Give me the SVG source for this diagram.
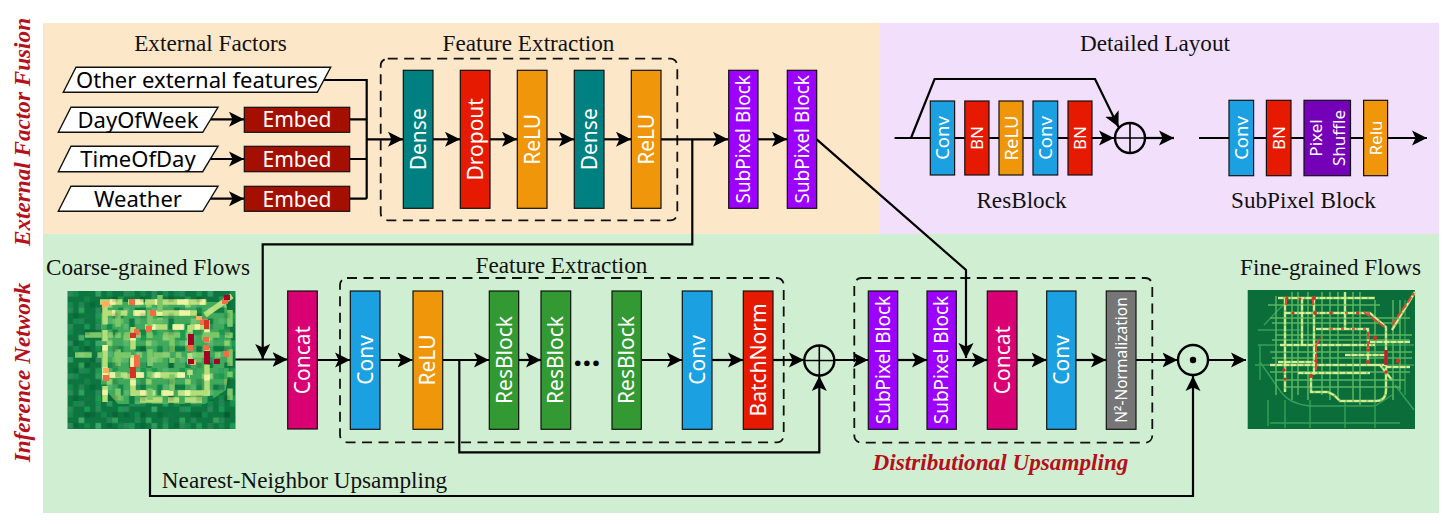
<svg xmlns="http://www.w3.org/2000/svg" width="1451" height="525" viewBox="0 0 1451 525">
<style>
.t{font-family:"Liberation Serif","Times New Roman",serif;font-size:23.2px;fill:#111;text-anchor:middle}
.r{font-family:"Liberation Serif",serif;font-weight:bold;font-style:italic;fill:#b5101c;text-anchor:middle;font-size:23.2px}
.b{stroke:#111;stroke-width:1.2}
.w{font-family:"Noto Sans","Open Sans",sans-serif;fill:#fff;text-anchor:middle;font-size:21px}
.s{font-size:18.5px}
.m{font-size:17px}
.v{font-size:19px}
.c{fill:none;stroke:#000;stroke-width:2.2}
.a{marker-end:url(#ah)}
.d{fill:none;stroke:#111;stroke-width:1.8;stroke-dasharray:10 6.5}
.p{fill:#fff;stroke:#111;stroke-width:1.4}
.k{font-family:"Noto Sans","Open Sans",sans-serif;fill:#000;text-anchor:middle;font-size:22px}
.o{fill:none;stroke:#000;stroke-width:2.4}
.h{stroke-width:1.6}
.teal{fill:#008080}.red{fill:#e51a00}.org{fill:#f0960a}.pur{fill:#9c00ff}.blu{fill:#1ba1e2}.grn{fill:#339933}.pnk{fill:#d80073}.gry{fill:#767676}.vio{fill:#7400b8}.emb{fill:#a50f00}
</style>
<defs>
<marker id="ah" markerUnits="userSpaceOnUse" markerWidth="16" markerHeight="16" refX="15" refY="8" orient="auto" viewBox="0 0 16 16"><path d="M0,0.5 L15,8 L0,15.5 L3.5,8 Z" fill="#000"/></marker>
<pattern id="np" width="33.6" height="27.5" patternUnits="userSpaceOnUse" x="67.5" y="291">
<rect width="33.6" height="27.5" fill="#0d7540"/>
<rect x="5.6" y="0" width="5.6" height="5.5" fill="#13894a"/><rect x="16.8" y="5.5" width="5.6" height="5.5" fill="#1a9850"/><rect x="28" y="0" width="5.6" height="5.5" fill="#188f4c"/><rect x="0" y="11" width="5.6" height="5.5" fill="#13894a"/><rect x="11.2" y="16.5" width="5.6" height="5.5" fill="#2fa255"/><rect x="22.4" y="11" width="5.6" height="5.5" fill="#056b38"/><rect x="28" y="22" width="5.6" height="5.5" fill="#1f9a52"/><rect x="5.6" y="22" width="5.6" height="5.5" fill="#056b38"/><rect x="16.8" y="22" width="5.6" height="5.5" fill="#13894a"/>
</pattern>
<pattern id="mp" width="39.2" height="38.5" patternUnits="userSpaceOnUse" x="67.5" y="291">
<rect width="39.2" height="38.5" fill="#3fa95c"/>
<rect x="5.6" y="0" width="5.6" height="5.5" fill="#1a9850"/><rect x="16.8" y="5.5" width="11.2" height="5.5" fill="#86cb66"/><rect x="0" y="11" width="5.6" height="5.5" fill="#8fd26c"/><rect x="11.2" y="16.5" width="5.6" height="11" fill="#13894a"/><rect x="28" y="16.5" width="11.2" height="5.5" fill="#0f7c42"/><rect x="33.6" y="0" width="5.6" height="11" fill="#1a9850"/><rect x="5.6" y="27.5" width="11.2" height="5.5" fill="#66bd63"/><rect x="22.4" y="27.5" width="5.6" height="11" fill="#0f7c42"/><rect x="0" y="33" width="5.6" height="5.5" fill="#13894a"/><rect x="28" y="5.5" width="5.6" height="5.5" fill="#2a9c55"/>
</pattern>
<pattern id="qp" width="28" height="16.5" patternUnits="userSpaceOnUse" x="67.5" y="291">
<rect x="0" y="0" width="5.6" height="5.5" fill="#fff" fill-opacity=".13"/><rect x="16.8" y="5.5" width="5.6" height="5.5" fill="#000" fill-opacity=".14"/><rect x="11.2" y="11" width="5.6" height="5.5" fill="#fff" fill-opacity=".1"/>
</pattern>
<filter id="bl" x="-5%" y="-5%" width="110%" height="110%"><feGaussianBlur stdDeviation="0.55"/></filter>
<filter id="bc" x="-2%" y="-2%" width="104%" height="104%"><feGaussianBlur stdDeviation="0.4"/></filter>
<path id="f-major" d="M1278,298 H1375 M1285,313 H1370 L1386,327 V390 Q1386,401 1376,401 H1340 L1334,395 L1328,392 H1311 V373 M1285,298 V392 M1302,298 V345 M1314,298 V375 M1316,329 H1368 V365 H1380 L1392,380 M1270,365 H1386 M1278,362 H1315 V343 M1370,342 H1410 M1386,367 H1410 M1345,345 H1375 M1392,330 L1415,292 M1280,345 H1345 M1345,355 H1385 M1298,373 H1370 M1345,292 V330"/>
</defs>

<g id="backgrounds">
<rect x="43" y="23" width="837" height="211" fill="#fce7c9"/>
<rect x="880" y="23" width="559" height="211" fill="#f2dffc"/>
<rect x="43" y="234" width="1396" height="279" fill="#d0efd2"/>
</g>

<text class="r" transform="translate(29.5,132) rotate(-90)">External Factor Fusion</text>
<text class="r" transform="translate(29.5,372.5) rotate(-90)">Inference Network</text>
<text class="t" x="210.5" y="51">External Factors</text>
<text class="t" x="528.5" y="51">Feature Extraction</text>
<text class="t" x="1155" y="51">Detailed Layout</text>
<text class="t" x="1021.5" y="207.5">ResBlock</text>
<text class="t" x="1303.5" y="207.5">SubPixel Block</text>
<text class="t" x="148" y="274.5">Coarse-grained Flows</text>
<text class="t" x="561.5" y="272.5">Feature Extraction</text>
<text class="t" x="1330.5" y="274.5">Fine-grained Flows</text>
<text class="t" x="304.5" y="488">Nearest-Neighbor Upsampling</text>
<text class="r" x="1000.5" y="470">Distributional Upsampling</text>

<g id="dashed-groups">
<rect class="d" x="380.7" y="58.7" width="296.6" height="161.6" rx="7"/>
<rect class="d" x="340" y="278" width="443.7" height="164.3" rx="7"/>
<rect class="d" x="854.3" y="278" width="298" height="164.6" rx="7"/>
</g>

<g id="connectors">
<path class="c" d="M323,80 H366.7 V198.7 M349.7,119.3 H366.7 M349.7,159 H366.7 M349.7,198.7 H366.7"/>
<path class="c a" d="M210,119.3 H244"/>
<path class="c a" d="M210,159 H244"/>
<path class="c a" d="M210,198.7 H244"/>
<path class="c a" d="M366.7,139.3 H403"/>
<path class="c a" d="M433,139.3 H460"/>
<path class="c a" d="M490,139.3 H517"/>
<path class="c a" d="M547,139.3 H574"/>
<path class="c a" d="M604,139.3 H631"/>
<path class="c a" d="M661,139.3 H728"/>
<path class="c a" d="M758,139.3 H787"/>
<path class="c a" d="M692.3,139.3 V244.3 H262.7 V359"/>
<path class="c a" d="M816.7,139.3 L966,270 V358"/>
<path class="c a" d="M234,359.5 H287.5"/>
<path class="c a" d="M317.3,360 H350"/>
<path class="c a" d="M380,360 H412.5"/>
<path class="c a" d="M442.7,360 H489"/>
<path class="c a" d="M518.7,360 H541"/>
<path class="c a" d="M641.3,360 H682"/>
<path class="c a" d="M712,360 H743"/>
<path class="c a" d="M773,360 H804"/>
<path class="c a" d="M459.3,360 V452.3 H819.3 V376"/>
<path class="c a" d="M834.3,360 H868"/>
<path class="c a" d="M897.7,360 H927"/>
<path class="c a" d="M956.3,360 H987"/>
<path class="c a" d="M1017,360 H1046.5"/>
<path class="c a" d="M1076,360 H1106"/>
<path class="c a" d="M1136,360 H1177.5"/>
<path class="c a" d="M1208,360 H1246"/>
<path class="c a" d="M150,429 V496 H1193 V376"/>
<path class="c a" d="M894.6,138 H1114"/>
<path class="c a" d="M911,138 L934.6,79 H1095 L1118.5,127"/>
<path class="c a" d="M1145,138 H1174"/>
<path class="c a" d="M1199,138 H1427"/>
</g>

<g id="input-other"><polygon class="p" points="63.3,92.3 76,67.3 330.7,67.3 317.3,92.3"/><text class="k" x="197" y="87.5">Other external features</text></g>
<g id="input-dayofweek"><polygon class="p" points="58.3,132.3 71,107.3 218,107.3 202.7,132.3"/><text class="k" x="138" y="127.5">DayOfWeek</text></g>
<g id="input-timeofday"><polygon class="p" points="58.3,171.7 71,146.3 218,146.3 202.7,171.7"/><text class="k" x="138" y="167">TimeOfDay</text></g>
<g id="input-weather"><polygon class="p" points="58.3,211.3 71,186.3 218,186.3 202.7,211.3"/><text class="k" x="138" y="207">Weather</text></g>

<g id="embed-1"><rect class="b emb" x="244.3" y="107.3" width="105.4" height="25"/><text class="w" x="297" y="127">Embed</text></g>
<g id="embed-2"><rect class="b emb" x="244.3" y="146.3" width="105.4" height="25.4"/><text class="w" x="297" y="166.5">Embed</text></g>
<g id="embed-3"><rect class="b emb" x="244.3" y="186.3" width="105.4" height="25"/><text class="w" x="297" y="206.5">Embed</text></g>

<g id="ext-dense-1"><rect class="b teal" x="403.3" y="70.3" width="29.7" height="138"/><text class="w" transform="translate(418.2,139.3) rotate(-90)" dy="7.5">Dense</text></g>
<g id="ext-dropout"><rect class="b red" x="460.3" y="70.3" width="29.7" height="138"/><text class="w" transform="translate(475.2,139.3) rotate(-90)" dy="7.5">Dropout</text></g>
<g id="ext-relu-1"><rect class="b org" x="517.3" y="70.3" width="29.7" height="138"/><text class="w" transform="translate(532.2,139.3) rotate(-90)" dy="7.5">ReLU</text></g>
<g id="ext-dense-2"><rect class="b teal" x="574.3" y="70.3" width="29.7" height="138"/><text class="w" transform="translate(589.2,139.3) rotate(-90)" dy="7.5">Dense</text></g>
<g id="ext-relu-2"><rect class="b org" x="631.3" y="70.3" width="29.7" height="138"/><text class="w" transform="translate(646.2,139.3) rotate(-90)" dy="7.5">ReLU</text></g>
<g id="ext-subpixel-1"><rect class="b pur" x="728.7" y="70.3" width="29.3" height="138"/><text class="w v" transform="translate(743.3,139.3) rotate(-90)" dy="6.8">SubPixel Block</text></g>
<g id="ext-subpixel-2"><rect class="b pur" x="787.3" y="70.3" width="29.4" height="138"/><text class="w v" transform="translate(802,139.3) rotate(-90)" dy="6.8">SubPixel Block</text></g>

<g id="rb-conv-1"><rect class="b blu" x="930.3" y="101" width="24.3" height="74"/><text class="w s" transform="translate(942.5,138) rotate(-90)" dy="6.5">Conv</text></g>
<g id="rb-bn-1"><rect class="b red" x="964.8" y="101" width="24.2" height="74"/><text class="w m" transform="translate(977,138) rotate(-90)" dy="6">BN</text></g>
<g id="rb-relu"><rect class="b org" x="999" y="101" width="24" height="74"/><text class="w s" transform="translate(1011,138) rotate(-90)" dy="6.5">ReLU</text></g>
<g id="rb-conv-2"><rect class="b blu" x="1033" y="101" width="24.7" height="74"/><text class="w s" transform="translate(1045.4,138) rotate(-90)" dy="6.5">Conv</text></g>
<g id="rb-bn-2"><rect class="b red" x="1068" y="101" width="24" height="74"/><text class="w m" transform="translate(1080,138) rotate(-90)" dy="6">BN</text></g>
<g id="rb-add"><circle class="o" cx="1130" cy="138" r="15"/><path class="o h" d="M1115,138 H1145 M1130,123 V153"/></g>

<g id="sp-conv"><rect class="b blu" x="1229" y="100.3" width="24.6" height="75.4"/><text class="w s" transform="translate(1241.3,138) rotate(-90)" dy="6.5">Conv</text></g>
<g id="sp-bn"><rect class="b red" x="1266.4" y="100.3" width="24.6" height="75.4"/><text class="w m" transform="translate(1278.7,138) rotate(-90)" dy="6">BN</text></g>
<g id="sp-shuffle"><rect class="b vio" x="1304" y="100.3" width="46.5" height="75.4"/><text class="w m" transform="translate(1327,138) rotate(-90)"><tspan x="0" y="-5">Pixel</tspan><tspan x="0" y="18">Shuffle</tspan></text></g>
<g id="sp-relu"><rect class="b org" x="1363.6" y="100.3" width="24" height="75.4"/><text class="w m" transform="translate(1375.6,138) rotate(-90)" dy="6">Relu</text></g>

<g id="coarse-map">
<rect x="67.5" y="291" width="168" height="138" fill="url(#np)"/>
<g filter="url(#bc)">
<polygon points="101,308 118,302 226,302 232,345 226,390 205,404 118,404 101,385" fill="url(#mp)"/>
<g fill="none" stroke-width="5.5">
<path stroke="#b5dd78" stroke-dasharray="22.4 5.6 11.2 5.6 33.6 5.6" d="M100,302 H212 M105,313 H197 M105,302 V402 M133,327 V396 M145,327 H205 M190,325 V375 M207,320 V396 M105,375 H190 M133,393 H210 M140,400 H202"/>
<path stroke="#eef3a4" stroke-dasharray="5.6 16.8 11.2 11.2" d="M110,302 H210 M105,345 V395 M150,327 H200 M133,335 V390 M207,330 V390 M112,313 H190 M140,393 H205 M110,375 H185"/>
<path stroke="#7cc868" stroke-dasharray="16.8 5.6 5.6 11.2" d="M75,355 H232 M85,335 H232 M160,295 V320 M230,310 V400 M172,335 V395 M118,310 V400 M150,310 V400"/>
<path stroke="#b5dd78" d="M205,315 L232,296"/>
</g>
<rect x="67.5" y="291" width="168" height="138" fill="url(#qp)"/>
<g fill="#f46d43">
<rect x="222" y="299" width="6" height="5"/><rect x="129" y="299" width="6" height="6"/><rect x="150" y="310" width="6" height="6"/><rect x="200" y="319" width="8" height="6"/><rect x="134" y="329" width="5" height="6"/><rect x="146" y="326" width="6" height="6"/><rect x="187" y="345" width="6" height="6"/><rect x="203" y="337" width="6" height="5"/><rect x="203" y="345" width="6" height="5"/><rect x="134" y="355" width="6" height="12"/><rect x="223" y="351" width="6" height="6"/><rect x="103" y="375" width="6" height="6"/>
</g>
<g fill="#fdae61"><rect x="102" y="301" width="7" height="6"/><rect x="103" y="368" width="6" height="5"/><rect x="190" y="360" width="6" height="5"/><rect x="196" y="316" width="6" height="4"/></g>
<g fill="#d73027"><rect x="204" y="320" width="5" height="9"/><rect x="130" y="333" width="6" height="5"/><rect x="130" y="367" width="6" height="11"/></g>
<g fill="#a50026"><rect x="224" y="295" width="6" height="5"/><rect x="188" y="334" width="6" height="11"/><rect x="204" y="351" width="6" height="13"/><rect x="188" y="359" width="6" height="5"/><rect x="214" y="359" width="6" height="5"/></g>
</g>
</g>

<g id="concat-1"><rect class="b pnk" x="287.7" y="291" width="29.6" height="138"/><text class="w" transform="translate(302.5,360) rotate(-90)" dy="7.5">Concat</text></g>
<g id="inf-conv-1"><rect class="b blu" x="350.3" y="291" width="29.7" height="138.3"/><text class="w" transform="translate(365.2,360) rotate(-90)" dy="7.5">Conv</text></g>
<g id="inf-relu"><rect class="b org" x="413" y="291" width="29.7" height="138.3"/><text class="w" transform="translate(427.8,360) rotate(-90)" dy="7.5">ReLU</text></g>
<g id="inf-res-1"><rect class="b grn" x="489.3" y="291" width="29.4" height="138.3"/><text class="w" transform="translate(504,360) rotate(-90)" dy="7.5">ResBlock</text></g>
<g id="inf-res-2"><rect class="b grn" x="541" y="291" width="29.7" height="138.3"/><text class="w" transform="translate(555.8,360) rotate(-90)" dy="7.5">ResBlock</text></g>
<text class="k" x="587" y="365.5" style="font-size:32px;font-weight:bold">…</text>
<g id="inf-res-3"><rect class="b grn" x="612" y="291" width="29.3" height="138.3"/><text class="w" transform="translate(626.6,360) rotate(-90)" dy="7.5">ResBlock</text></g>
<g id="inf-conv-2"><rect class="b blu" x="682.3" y="291" width="29.7" height="138.3"/><text class="w" transform="translate(697.2,360) rotate(-90)" dy="7.5">Conv</text></g>
<g id="inf-batchnorm"><rect class="b red" x="743.3" y="291" width="29.7" height="138.3"/><text class="w" transform="translate(758.2,360) rotate(-90)" dy="7.5">BatchNorm</text></g>
<g id="inf-add"><circle class="o" cx="819.3" cy="360.5" r="15"/><path class="o h" d="M804.3,360.5 H834.3 M819.3,345.5 V375.5"/></g>

<g id="up-subpixel-1"><rect class="b pur" x="868.3" y="291" width="29.4" height="138.3"/><text class="w v" transform="translate(883,360) rotate(-90)" dy="6.8">SubPixel Block</text></g>
<g id="up-subpixel-2"><rect class="b pur" x="927" y="291" width="29.3" height="138.3"/><text class="w v" transform="translate(941.6,360) rotate(-90)" dy="6.8">SubPixel Block</text></g>
<g id="up-concat"><rect class="b pnk" x="987.3" y="291" width="29.7" height="138.3"/><text class="w" transform="translate(1002.2,360) rotate(-90)" dy="7.5">Concat</text></g>
<g id="up-conv"><rect class="b blu" x="1046.7" y="291" width="29.3" height="138.3"/><text class="w" transform="translate(1061.3,360) rotate(-90)" dy="7.5">Conv</text></g>
<g id="up-norm"><rect class="b gry" x="1106.3" y="291" width="29.7" height="138.3"/><text class="w" style="font-size:15.5px" transform="translate(1121,360) rotate(-90)" dy="5.5">N²-Normalization</text></g>
<g id="mul"><circle class="o" cx="1193" cy="360" r="15"/><circle cx="1193" cy="360" r="3.2" fill="#000"/></g>

<g id="fine-map">
<rect x="1247.7" y="290" width="167.3" height="139" fill="#0a6d3a"/>
<g filter="url(#bl)" fill="none">
<path stroke="#35a057" stroke-width="1.4" d="M1258,345 H1414 M1255,365 H1414 M1258,330 H1300 M1260,380 V345 M1264,325 L1285,303 M1281,392 L1260,362 M1270,423 H1400 M1268,400 V426 M1285,400 V428 M1310,400 V428 M1345,400 V428 M1375,400 V428 M1395,385 L1414,410 M1281,392 Q1290,404 1310,406 H1375 L1392,395 M1405,300 V395"/>
<path stroke="#58b55f" stroke-width="1.5" d="M1276,296 V395 M1292,292 V400 M1298,292 V395 M1308,292 V400 M1322,292 V395 M1330,292 V400 M1338,292 V400 M1353,292 V400 M1360,292 V405 M1375,300 V400 M1393,300 V400 M1400,300 V390 M1268,305 H1380 M1270,318 H1410 M1272,323 H1400 M1275,335 H1412 M1272,340 H1410 M1270,352 H1412 M1272,358 H1412 M1270,372 H1410 M1275,380 H1405 M1285,387 H1400"/>
<use href="#f-major" stroke="#8ed06a" stroke-width="2.6"/>
<use href="#f-major" stroke="#eef3a4" stroke-width="1.3" stroke-dasharray="5 2"/>
</g>
<g fill="none" filter="url(#bl)">
<path stroke="#e04a35" stroke-width="2" d="M1364,312 L1386,328 M1316,345 V370 M1316,345 L1322,336 M1368,332 V350 M1286,298 V305 M1313,298 V305 M1392,325 L1414,293" stroke-dasharray="7 2"/>
<path stroke="#e8603f" stroke-width="1.8" stroke-dasharray="3 8" d="M1330,329 H1368 M1345,313 H1370"/>
<path stroke="#c21a2c" stroke-width="3.5" d="M1386,350 V365"/>
</g>
<g fill="#d73027"><circle cx="1287" cy="298" r="1.6"/><circle cx="1300" cy="299" r="1.4"/><circle cx="1314" cy="298" r="2"/><circle cx="1331" cy="313" r="1.8"/><circle cx="1358" cy="313" r="1.6"/><circle cx="1293" cy="313" r="1.6"/><circle cx="1315" cy="313" r="2"/><circle cx="1375" cy="338" r="2.2"/><circle cx="1368" cy="350" r="1.8"/><circle cx="1398" cy="361" r="2.2"/><circle cx="1368" cy="362" r="2"/><circle cx="1284" cy="370" r="1.8"/><circle cx="1311" cy="376" r="2"/><circle cx="1386" cy="372" r="1.8"/><circle cx="1285" cy="379" r="1.6"/><circle cx="1316" cy="361" r="1.8"/></g>
</g>
</svg>
